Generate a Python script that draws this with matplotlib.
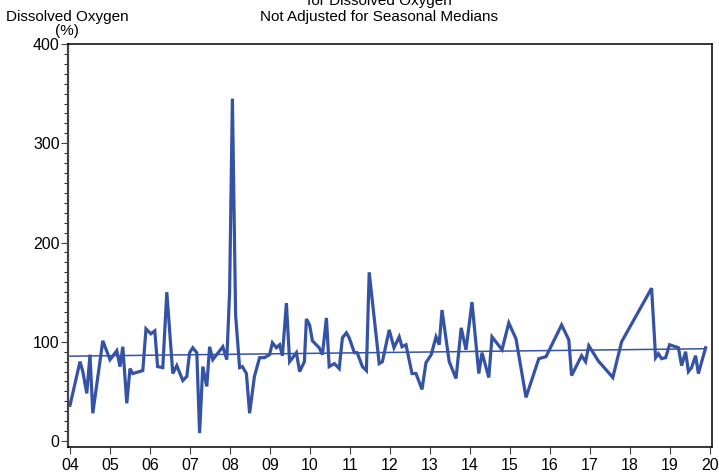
import matplotlib
matplotlib.use("Agg")
import matplotlib.pyplot as plt
from matplotlib.ticker import MultipleLocator

plt.rcParams["font.family"] = ["Liberation Sans", "DejaVu Sans"]

LINE = "#3553a5"

# sample dates (decimal years) and dissolved oxygen (%)
dates = [
    2004.00, 2004.25, 2004.32, 2004.42, 2004.50, 2004.57, 2004.82, 2005.00,
    2005.17, 2005.25, 2005.32, 2005.42, 2005.50, 2005.57, 2005.82, 2005.90,
    2006.02, 2006.12, 2006.19, 2006.32, 2006.42, 2006.57, 2006.67, 2006.82,
    2006.92, 2006.99, 2007.07, 2007.17, 2007.24, 2007.32, 2007.42, 2007.49,
    2007.57, 2007.82, 2007.92, 2007.99, 2008.06, 2008.14, 2008.24, 2008.31,
    2008.41, 2008.49, 2008.61, 2008.74, 2008.86, 2008.99, 2009.06, 2009.16,
    2009.24, 2009.31, 2009.41, 2009.49, 2009.66, 2009.74, 2009.86, 2009.91,
    2009.99, 2010.06, 2010.23, 2010.31, 2010.41, 2010.48, 2010.61, 2010.73,
    2010.81, 2010.91, 2010.98, 2011.11, 2011.18, 2011.31, 2011.41, 2011.48,
    2011.73, 2011.81, 2011.98, 2012.10, 2012.23, 2012.30, 2012.40, 2012.55,
    2012.65, 2012.80, 2012.90, 2013.03, 2013.15, 2013.23, 2013.30, 2013.48,
    2013.65, 2013.78, 2013.90, 2014.05, 2014.22, 2014.30, 2014.47, 2014.55,
    2014.80, 2014.97, 2015.15, 2015.40, 2015.72, 2015.90, 2016.29, 2016.47,
    2016.54, 2016.79, 2016.89, 2016.97, 2017.22, 2017.29, 2017.57, 2017.79,
    2018.54, 2018.64, 2018.71, 2018.79, 2018.89, 2018.99, 2019.21, 2019.29,
    2019.39, 2019.46, 2019.54, 2019.64, 2019.71, 2019.89,
]
do_pct = [
    36, 80, 70, 48, 87, 28, 101, 82,
    91, 75, 95, 38, 73, 68, 71, 113,
    108, 111, 75, 74, 150, 68, 76, 61,
    65, 89, 94, 89, 8, 75, 55, 95,
    82, 95, 82, 150, 345, 127, 74, 75,
    68, 28, 65, 84, 84, 87, 99, 94,
    97, 86, 139, 80, 89, 70, 80, 123,
    117, 101, 94, 87, 124, 75, 78, 73,
    104, 109, 104, 89, 89, 75, 71, 170,
    78, 80, 112, 94, 105, 95, 97, 68,
    68, 52, 79, 87, 105, 97, 132, 80,
    63, 114, 92, 140, 68, 89, 64, 105,
    92, 119, 103, 44, 83, 85, 117, 102,
    66, 86, 80, 96, 80, 77, 64, 100,
    154, 84, 88, 83, 84, 97, 94, 76,
    90, 70, 74, 86, 68, 94,
]

trend_x = [2004.0, 2019.9]
trend_y = [85.5, 93.0]

years = list(range(2004, 2021))
year_labels = [f"{y % 100:02d}" for y in years]

fig = plt.figure(figsize=(7.19, 4.74), dpi=100)
ax = fig.add_axes([68 / 719, 27 / 474, 644 / 719, 403 / 474])

ax.plot(dates, do_pct, color=LINE, lw=2.3, solid_joinstyle="miter")
ax.plot(trend_x, trend_y, color=LINE, lw=1.1)

ax.set_xlim(2003.95, 2020.05)
ax.set_ylim(-6, 400)
ax.set_xticks(years)
ax.set_xticklabels(year_labels)
ax.set_yticks([0, 100, 200, 300, 400])
ax.yaxis.set_minor_locator(MultipleLocator(10))
ax.tick_params(axis="both", labelsize=11.5, color="#444444", direction="out")
ax.tick_params(axis="y", which="major", length=5, pad=1)
ax.tick_params(axis="y", which="minor", length=3)
ax.tick_params(axis="x", which="major", length=5, pad=3)
for s in ax.spines.values():
    s.set_linewidth(1.1)
ax.spines["left"].set_color("#444444")
ax.spines["left"].set_linewidth(1.6)

fig.text(67 / 719, 1 - 17 / 474, "Dissolved Oxygen", ha="center", va="center", fontsize=11)
fig.text(67 / 719, 1 - 31 / 474, "(%)", ha="center", va="center", fontsize=11)
fig.text(379 / 719, 1 - 1 / 474, "for Dissolved Oxygen", ha="center", va="center", fontsize=11)
fig.text(379 / 719, 1 - 17 / 474, "Not Adjusted for Seasonal Medians", ha="center", va="center", fontsize=11)

fig.savefig("out.png", dpi=100)
plt.close(fig)
